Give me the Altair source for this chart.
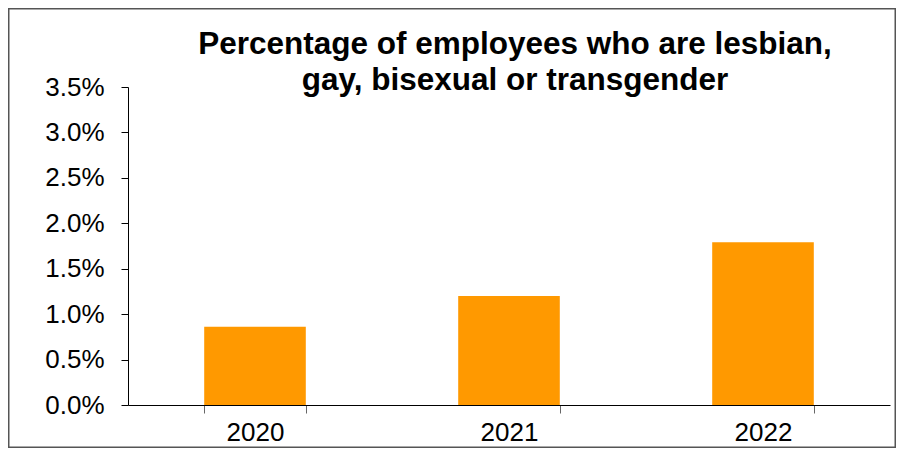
import altair as alt
import pandas as pd

years = ["2020", "2021", "2022"]
share = [0.0086, 0.0120, 0.0179]
y_ticks = [0.0, 0.005, 0.01, 0.015, 0.02, 0.025, 0.03, 0.035]
title_lines = ["Percentage of employees who are lesbian,", "gay, bisexual or transgender"]

df = pd.DataFrame({"year": years, "share": share})
FONT = "Liberation Sans"

bars = alt.Chart(df).mark_bar(color="#FF9900").encode(
    x=alt.X(
        "year:N",
        sort=years,
        scale=alt.Scale(paddingInner=0.6, paddingOuter=0.3),
        axis=alt.Axis(
            title=None,
            labelAngle=0,
            tickBand="extent",
            tickSize=8,
            tickColor="#666666",
            domainColor="#000000",
            labelFontSize=26,
            labelFont=FONT,
            labelColor="#000000",
            labelPadding=6,
        ),
    ),
    y=alt.Y(
        "share:Q",
        scale=alt.Scale(domain=[0, 0.035], nice=False),
        axis=alt.Axis(
            title=None,
            values=y_ticks,
            format=".1%",
            grid=False,
            tickSize=7,
            tickColor="#000000",
            domainColor="#000000",
            labelFontSize=26,
            labelFont=FONT,
            labelColor="#000000",
            labelPadding=17,
        ),
    ),
)

border = alt.Chart(pd.DataFrame({"a": [0]})).mark_rect(
    fill=None, stroke="#555555", strokeWidth=1.5
).encode(
    x=alt.value(-119.25), x2=alt.value(767.25), y=alt.value(-78.25), y2=alt.value(360.25)
)

chart = alt.layer(bars, border).properties(
    width=762,
    height=318,
    padding={"left": 120, "top": 79, "right": 6, "bottom": 43},
    autosize=alt.AutoSizeParams(type="none"),
    title=alt.TitleParams(
        text=title_lines,
        font=FONT,
        fontSize=31.5,
        fontWeight="bold",
        color="#000000",
        anchor="middle",
        lineHeight=36,
        dx=6,
        dy=98,
        offset=10,
    ),
).configure_view(stroke=None)

chart.save("out.html", embed_options={"renderer": "svg", "actions": False})
